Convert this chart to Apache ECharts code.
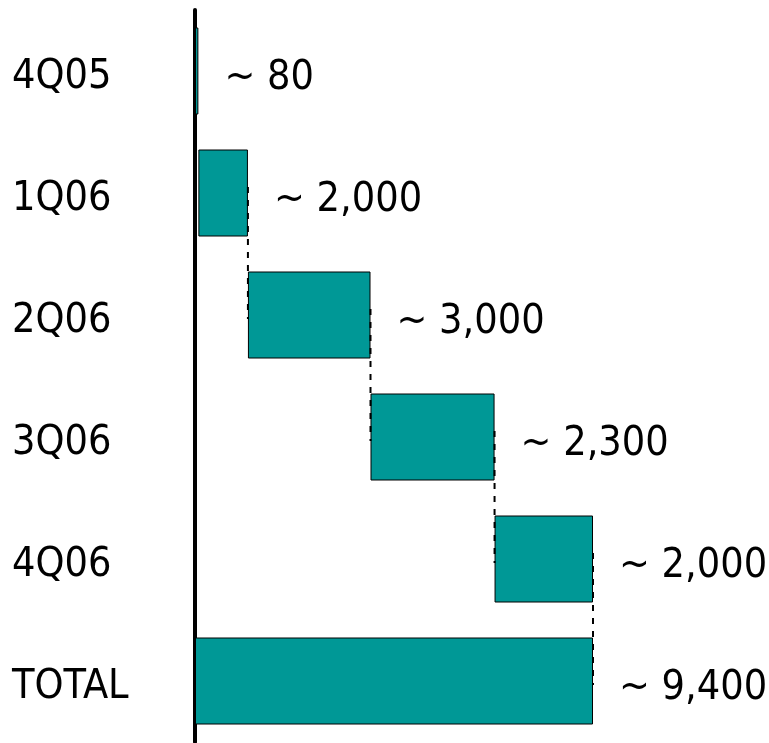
<!DOCTYPE html>
<html>
<head>
<meta charset="utf-8">
<script src="https://cdn.jsdelivr.net/npm/echarts@6/dist/echarts.min.js"></script>
<style>
    html, body { margin: 0; padding: 0; background: #fff; }
    #waterfallChart { width: 769px; height: 743px; }
</style>
</head>
<body>
<div id="waterfallChart"></div>
<script>
// categories (top to bottom)
var categories = ['4Q05', '1Q06', '2Q06', '3Q06', '4Q06', 'TOTAL'];
// bar lengths as drawn in the picture
var barLengths = [80, 1170, 2895, 2930, 2325, 9400];
// hidden offset that each bar starts from
var barStarts = [0, 80, 1250, 4145, 7075, 0];
// label texts written next to bars
var labelTexts = ['~ 80', '~ 2,000', '~ 3,000', '~ 2,300', '~ 2,000', '~ 9,400'];

var FONT = '"DejaVu Sans Condensed", "DejaVu Sans", "Liberation Sans", sans-serif';

/**
 * dashed connectors: end of one bar down to the next bar
 */
function buildConnectors() {
    var list = [];
    for (var i = 1; i < 5; i++) {
        list.push([barStarts[i] + barLengths[i], i]);
    }
    return list;
}

function showWaterfall() {
    var myChart = echarts.init(document.getElementById('waterfallChart'));
    var option = {
        animation: false,
        backgroundColor: '#ffffff',
        grid: { left: 195, right: 176, top: 10, bottom: 1 },
        xAxis: {
            type: 'value',
            min: 0,
            max: 9400,
            show: false
        },
        yAxis: {
            type: 'category',
            data: categories,
            inverse: true,
            offset: 2,
            axisLine: { show: true, lineStyle: { color: '#000', width: 4 } },
            axisTick: { show: false },
            splitLine: { show: false },
            axisLabel: {
                align: 'left',
                margin: 181,
                formatter: function (v) { return '{c|' + v + '}'; },
                rich: {
                    // push the text a little lower than the row centre
                    c: {
                        padding: [13, 0, 0, 0],
                        color: '#000',
                        fontSize: 41,
                        fontFamily: FONT
                    }
                }
            }
        },
        series: [
            {
                // placeholder
                type: 'bar',
                stack: 'wf',
                barWidth: 87,
                silent: true,
                itemStyle: { color: 'transparent' },
                data: barStarts
            },
            {
                type: 'bar',
                stack: 'wf',
                barWidth: 87,
                itemStyle: { color: '#009896', borderColor: '#000', borderWidth: 1 },
                label: {
                    show: true,
                    position: 'right',
                    distance: 26,
                    offset: [0, 7],
                    color: '#000',
                    fontSize: 41,
                    fontFamily: FONT,
                    formatter: function (p) { return labelTexts[p.dataIndex]; }
                },
                data: barLengths
            },
            {
                type: 'custom',
                z: 5,
                silent: true,
                data: buildConnectors(),
                renderItem: function (params, api) {
                    var x = api.value(0);
                    var i = api.value(1);
                    var p1 = api.coord([x, i]);
                    var p2 = api.coord([x, i + 1]);
                    return {
                        type: 'line',
                        shape: { x1: p1[0], y1: p1[1] - 6, x2: p2[0], y2: p2[1] + 4 },
                        style: { stroke: '#000', lineWidth: 2, lineDash: [6, 7] }
                    };
                }
            }
        ]
    };
    myChart.setOption(option, true);
}

showWaterfall();
</script>
</body>
</html>
